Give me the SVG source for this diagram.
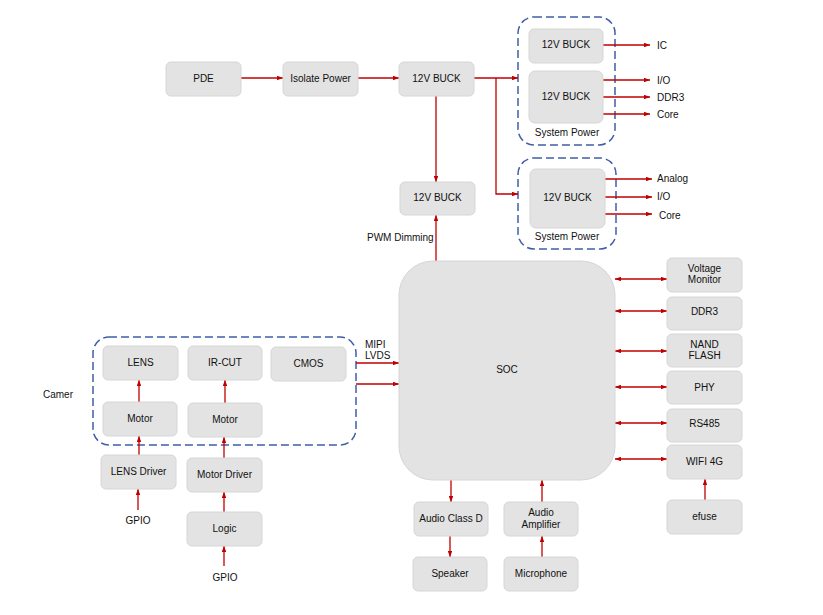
<svg xmlns="http://www.w3.org/2000/svg" width="823" height="615" viewBox="0 0 823 615">
<style>
.b{fill:#e3e3e3;stroke:#d6d6d6;stroke-width:1}
.d{fill:none;stroke:#3f5ea8;stroke-width:1.5;stroke-dasharray:8,4}
.t{font-family:"Liberation Sans",Arial,sans-serif;font-size:10px;fill:#111;text-anchor:middle}
.l{font-family:"Liberation Sans",Arial,sans-serif;font-size:10px;fill:#111}
.c{fill:none;stroke:#c00000;stroke-width:1.3}
.a{marker-end:url(#ah)}
.bi{marker-start:url(#as);marker-end:url(#ah)}
</style>
<defs>
<marker id="ah" viewBox="0 0 8 6" refX="8" refY="3" markerWidth="6" markerHeight="4.5" markerUnits="userSpaceOnUse" orient="auto"><path d="M0,0L8,3L0,6z" fill="#c00000"/></marker>
<marker id="as" viewBox="0 0 8 6" refX="0" refY="3" markerWidth="6" markerHeight="4.5" markerUnits="userSpaceOnUse" orient="auto"><path d="M8,0L0,3L8,6z" fill="#c00000"/></marker>
</defs>
<rect width="823" height="615" fill="#fff"/>
<g id="groups">
<rect class="d" x="518" y="17" width="97" height="128" rx="16"/>
<text class="t" x="567" y="136">System Power</text>
<rect class="d" x="518" y="158" width="98" height="91" rx="16"/>
<text class="t" x="567" y="240">System Power</text>
<rect class="d" x="93" y="337" width="263" height="108" rx="16"/>
<text class="l" x="43" y="398">Camer</text>
</g>
<g id="connectors">
<path class="c a" d="M241,78H283"/>
<path class="c a" d="M358,78H399"/>
<path class="c a" d="M474,78H518"/>
<path class="c a" d="M496,78V194H518"/>
<path class="c a" d="M436,96V182"/>
<path class="c a" d="M436,262V215"/>
<path class="c a" d="M603,45H650"/>
<path class="c a" d="M603,80H650"/>
<path class="c a" d="M603,97H650"/>
<path class="c a" d="M603,114H650"/>
<path class="c a" d="M605,179H652"/>
<path class="c a" d="M605,197H652"/>
<path class="c a" d="M605,214H652"/>
<path class="c bi" d="M615,279H667"/>
<path class="c bi" d="M615,311H667"/>
<path class="c bi" d="M615,351H667"/>
<path class="c bi" d="M615,387H667"/>
<path class="c bi" d="M615,423H667"/>
<path class="c bi" d="M615,459H667"/>
<path class="c a" d="M705,500V479"/>
<path class="c a" d="M356,363H399"/>
<path class="c a" d="M356,384H399"/>
<path class="c a" d="M139,402V380"/>
<path class="c a" d="M225,403V380"/>
<path class="c a" d="M139,455V436"/>
<path class="c a" d="M224,458V437"/>
<path class="c a" d="M224,512V492"/>
<path class="c a" d="M138,510V489"/>
<path class="c a" d="M224,566V546"/>
<path class="c a" d="M451,480V502"/>
<path class="c a" d="M450,536V557"/>
<path class="c a" d="M542,502V480"/>
<path class="c a" d="M542,557V536"/>
</g>
<g id="pde"><rect class="b" x="166" y="62" width="75" height="34" rx="5"/><text class="t" x="203.5" y="82">PDE</text></g>
<g id="isolate"><rect class="b" x="283" y="62" width="75" height="34" rx="5"/><text class="t" x="320.5" y="82">Isolate Power</text></g>
<g id="buck-main"><rect class="b" x="399" y="62" width="75" height="34" rx="5"/><text class="t" x="436.5" y="82">12V BUCK</text></g>
<g id="buck-ic"><rect class="b" x="529" y="29" width="74" height="34" rx="5"/><text class="t" x="566" y="48">12V BUCK</text></g>
<g id="buck-sys1"><rect class="b" x="529" y="71" width="74" height="52" rx="6"/><text class="t" x="566" y="100">12V BUCK</text></g>
<g id="buck-pwm"><rect class="b" x="400" y="182" width="75" height="33" rx="5"/><text class="t" x="437.5" y="201">12V BUCK</text></g>
<g id="buck-sys2"><rect class="b" x="530" y="169" width="75" height="59" rx="6"/><text class="t" x="567.5" y="201">12V BUCK</text></g>
<g id="out-labels">
<text class="l" x="657" y="49">IC</text>
<text class="l" x="657" y="84">I/O</text>
<text class="l" x="657" y="101">DDR3</text>
<text class="l" x="657" y="118">Core</text>
<text class="l" x="657" y="182">Analog</text>
<text class="l" x="657" y="200">I/O</text>
<text class="l" x="659" y="219">Core</text>
<text class="l" x="367" y="241">PWM Dimming</text>
<text class="l" x="365" y="348">MIPI</text>
<text class="l" x="365" y="359">LVDS</text>
<text class="t" x="138" y="524">GPIO</text>
<text class="t" x="225" y="581">GPIO</text>
</g>
<g id="soc"><rect class="b" x="399" y="261" width="216" height="219" rx="34"/><text class="t" x="507" y="373">SOC</text></g>
<g id="vmon"><rect class="b" x="667" y="258" width="75" height="34" rx="5"/><text class="t" x="704.5" y="272">Voltage</text><text class="t" x="704.5" y="283">Monitor</text></g>
<g id="ddr3"><rect class="b" x="667" y="297" width="75" height="33" rx="5"/><text class="t" x="704.5" y="315">DDR3</text></g>
<g id="nand"><rect class="b" x="667" y="334" width="75" height="33" rx="5"/><text class="t" x="704.5" y="348">NAND</text><text class="t" x="704.5" y="359">FLASH</text></g>
<g id="phy"><rect class="b" x="667" y="371" width="75" height="33" rx="5"/><text class="t" x="704.5" y="391">PHY</text></g>
<g id="rs485"><rect class="b" x="667" y="409" width="75" height="33" rx="5"/><text class="t" x="704.5" y="427">RS485</text></g>
<g id="wifi"><rect class="b" x="667" y="445" width="75" height="34" rx="5"/><text class="t" x="704.5" y="465">WIFI 4G</text></g>
<g id="efuse"><rect class="b" x="667" y="500" width="75" height="34" rx="5"/><text class="t" x="704.5" y="520">efuse</text></g>
<g id="lens"><rect class="b" x="103" y="346" width="75" height="34" rx="5"/><text class="t" x="140.5" y="366">LENS</text></g>
<g id="ircut"><rect class="b" x="188" y="346" width="74" height="34" rx="5"/><text class="t" x="225" y="366">IR-CUT</text></g>
<g id="cmos"><rect class="b" x="271" y="347" width="75" height="34" rx="5"/><text class="t" x="308.5" y="367">CMOS</text></g>
<g id="motor1"><rect class="b" x="103" y="402" width="74" height="34" rx="5"/><text class="t" x="140" y="422">Motor</text></g>
<g id="motor2"><rect class="b" x="188" y="403" width="74" height="34" rx="5"/><text class="t" x="225" y="423">Motor</text></g>
<g id="lensdrv"><rect class="b" x="101" y="455" width="75" height="34" rx="5"/><text class="t" x="138.5" y="475">LENS Driver</text></g>
<g id="motordrv"><rect class="b" x="187" y="458" width="75" height="34" rx="5"/><text class="t" x="224.5" y="478">Motor Driver</text></g>
<g id="logic"><rect class="b" x="187" y="512" width="75" height="34" rx="5"/><text class="t" x="224.5" y="532">Logic</text></g>
<g id="classd"><rect class="b" x="414" y="502" width="74" height="34" rx="5"/><text class="t" x="451" y="522">Audio Class D</text></g>
<g id="speaker"><rect class="b" x="413" y="557" width="74" height="34" rx="5"/><text class="t" x="450" y="577">Speaker</text></g>
<g id="amp"><rect class="b" x="504" y="502" width="74" height="34" rx="5"/><text class="t" x="541" y="516">Audio</text><text class="t" x="541" y="528">Amplifier</text></g>
<g id="mic"><rect class="b" x="504" y="557" width="74" height="34" rx="5"/><text class="t" x="541" y="577">Microphone</text></g>
</svg>
